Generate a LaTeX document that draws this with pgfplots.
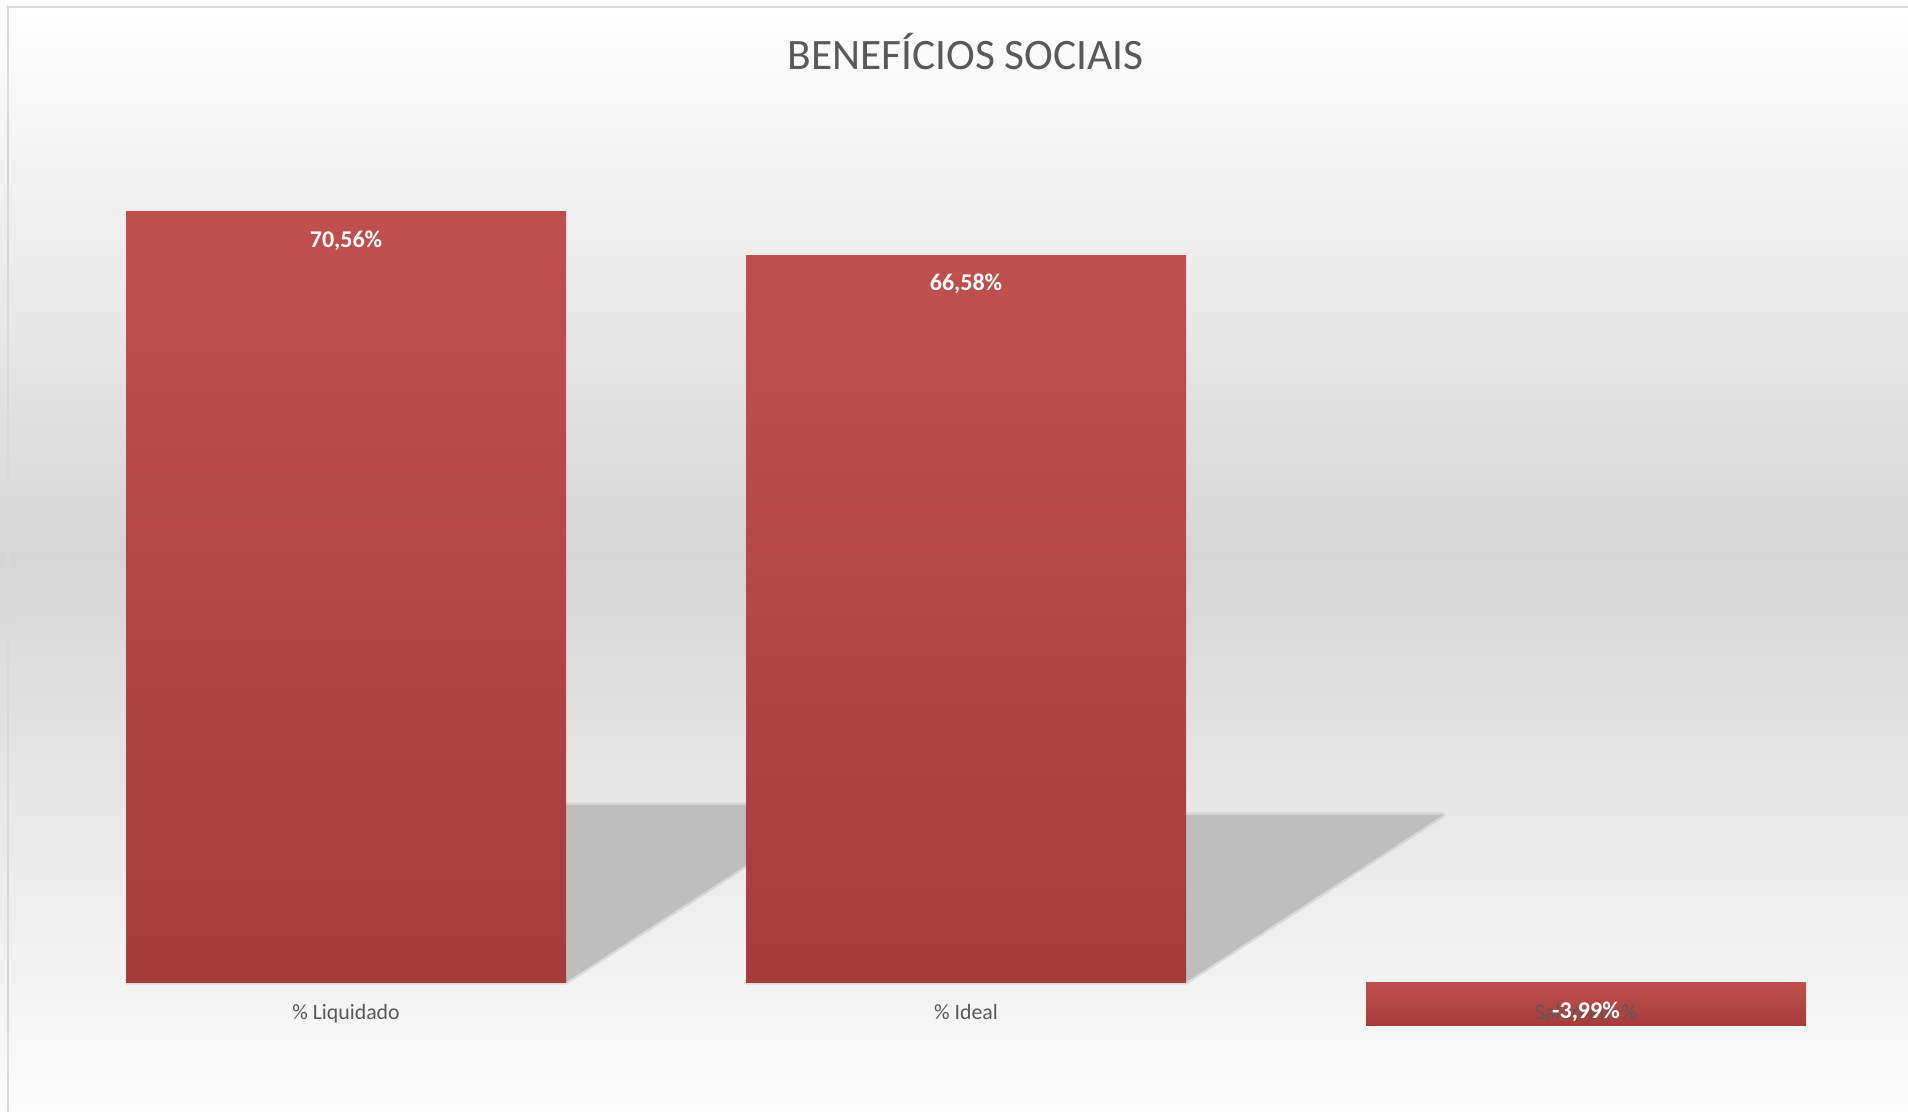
\documentclass[border=0pt]{standalone}
\usepackage{pgfplots}
\pgfplotsset{compat=1.18}
\usepackage{fontspec}
\setmainfont{Carlito}
\definecolor{barTop}{HTML}{C0504D}
\definecolor{barBot}{HTML}{A43D3A}
\definecolor{txtGrey}{HTML}{595959}
\definecolor{shadowGrey}{HTML}{BEBEBE}
\definecolor{bgMid}{HTML}{D6D6D6}
\definecolor{bgBot}{HTML}{FCFCFC}
\definecolor{frameGrey}{HTML}{D9D9D9}

\begin{document}
\begin{tikzpicture}[x=1pt,y=1pt]
\path[use as bounding box] (0,0) rectangle (954,556);
% chart area background
\shade[top color=white, bottom color=bgBot, middle color=bgMid] (0,0) rectangle (954,556);
\draw[frameGrey, line width=1pt] (4,0) -- (4,552.5) -- (954,552.5);
\node[txtGrey, font=\fontsize{21.7}{26}\selectfont] at (482.75,530.3) {BENEFÍCIOS SOCIAIS};

\begin{axis}[
  at={(18pt,10.4pt)}, anchor=south west,
  scale only axis, width=930pt, height=491.3pt,
  xmin=-0.5, xmax=2.5, ymin=-10, ymax=80,
  hide axis,
  clip=false,
  shadow/.style={draw=shadowGrey, fill=shadowGrey, line width=2.5pt,
    draw opacity=0.45, line join=round, forget plot},
  redbar/.style={ybar, bar width=220pt, bar shift=0pt, draw=none,
    top color=barTop, bottom color=barBot, forget plot},
]
% shadows
\addplot[shadow] coordinates {(-0.355,0) (0.355,0) (0.794,16.2) (0.084,16.2) (-0.355,0)};
\addplot[shadow] coordinates {(0.645,0) (1.355,0) (1.769,15.3) (1.059,15.3) (0.645,0)};

% bars, one path each so every bar gets its own gradient
\addplot[redbar] coordinates {(0,70.56)};
\addplot[redbar] coordinates {(1,66.58)};
\addplot[redbar] coordinates {(2,-3.99)};

% category names, set at the zero line
\addplot[only marks, mark=none, point meta=explicit symbolic,
  nodes near coords,
  every node near coord/.append style={txtGrey, font=\fontsize{10.9}{13}\selectfont,
    anchor=base, yshift=-18.6pt},
] coordinates {(0,0) [\% Liquidado] (1,0) [\% Ideal] (2,0) [Saldo em \%]};

% value labels
\addplot[only marks, mark=none,
  visualization depends on={y \as \rawy},
  nodes near coords={\pgfmathprintnumber[fixed,fixed zerofill,precision=2,use comma,assume math mode=true]{\pgfplotspointmeta}\%},
  every node near coord/.append style={white, font=\bfseries\fontsize{12}{14}\selectfont,
    anchor=center, yshift={ifthenelse(\rawy>0,-14.6,7.0)}},
] coordinates {(0,70.56) (1,66.58) (2,-3.99)};
\end{axis}
\end{tikzpicture}
\end{document}
